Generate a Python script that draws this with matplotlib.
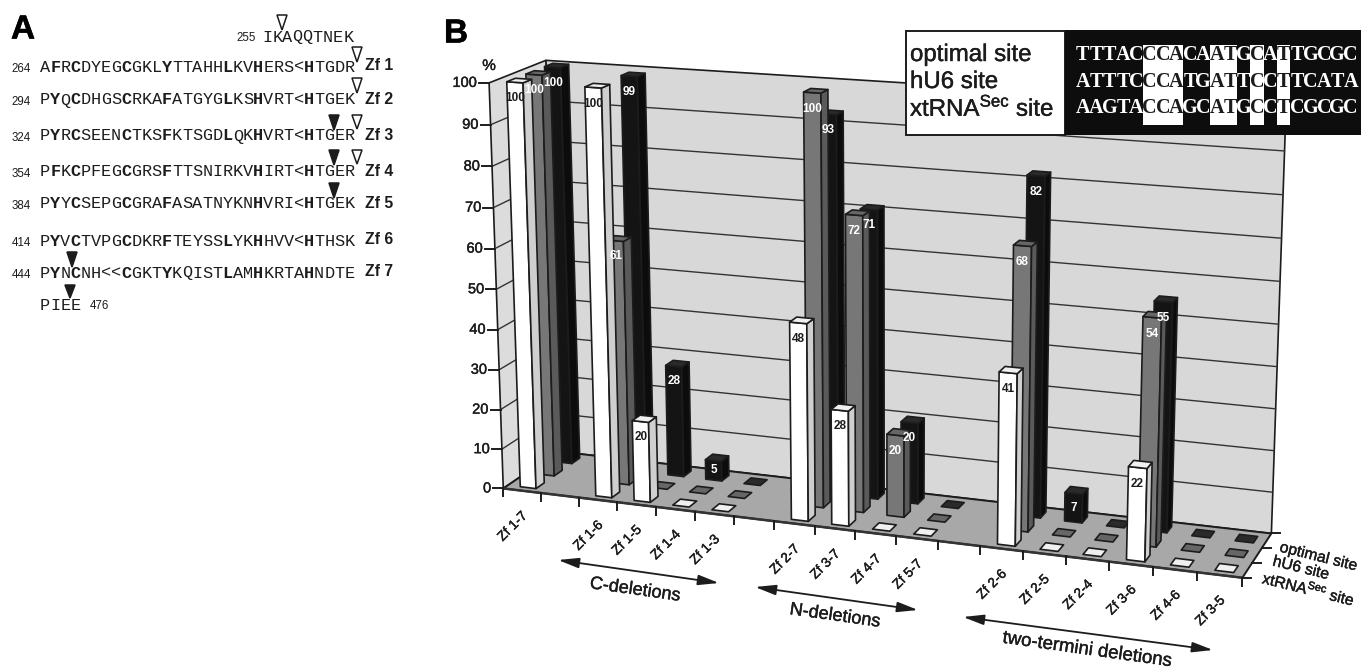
"""
Zinc finger alignment (A) and 3D bar chart of deletion mutants (B)
"""

import matplotlib
matplotlib.use('Agg')  # Use non-interactive backend
import matplotlib.pyplot as plt
import matplotlib.patheffects as pe
from matplotlib.patches import Polygon, Rectangle, FancyArrowPatch
import numpy as np

# ---- data, panel B ----
slot_labels = ['Zf 1-7', '', 'Zf 1-6', 'Zf 1-5', 'Zf 1-4', 'Zf 1-3', '',
               'Zf 2-7', 'Zf 3-7', 'Zf 4-7', 'Zf 5-7', '',
               'Zf 2-6', 'Zf 2-5', 'Zf 2-4', 'Zf 3-6', 'Zf 4-6', 'Zf 3-5']
xtrna_values = [100, None, 100, 20, 0, 0, None, 48, 28, 0, 0, None, 41, 0, 0, 22, 0, 0]
hu6_values = [100, None, 61, 0, 0, 0, None, 100, 72, 20, 0, None, 68, 0, 0, 54, 0, 0]
optimal_values = [100, None, 99, 28, 5, 0, None, 93, 71, 20, 0, None, 82, 7, 0, 55, 0, 0]
y_ticks = [0, 10, 20, 30, 40, 50, 60, 70, 80, 90, 100]

# ---- data, panel A ----
# a star marks the next residue as bold
zf_numbers = ['264', '294', '324', '354', '384', '414', '444']
zf_names = ['Zf 1', 'Zf 2', 'Zf 3', 'Zf 4', 'Zf 5', 'Zf 6', 'Zf 7']
zf_seqs = [
    'A*FR*CDYEG*CGKL*YTTAHH*LKV*HERS<*HTGDR',
    'P*YQ*CDHGS*CRKA*FATGYG*LKS*HVRT<*HTGEK',
    'P*YR*CSEEN*CTKS*FKTSGD*LQK*HVRT<*HTGER',
    'P*FK*CPFEG*CGRS*FTTSNIRKV*HIRT<*HTGER',
    'P*YY*CSEPG*CGRA*FASATNYKN*HVRI<*HTGEK',
    'P*YV*CTVPG*CDKR*FTEYSS*LYK*HHVV<*HTHSK',
    'P*YN*CNH<<*CGKT*YKQIST*LAM*HKRTA*HNDTE',
]
site_names = ['optimal site', 'hU6 site', r'xtRNA$^{\mathrm{Sec}}$ site']
site_seqs = ['TTTACCCACAATGCATTGCGC', 'ATTTCCCATGATTCCTTCATA', 'AAGTACCAGCATGCCTCGCGC']
site_conserved = [5, 6, 7, 10, 11, 13, 15]

plt.rcParams['font.family'] = ['Liberation Sans', 'DejaVu Sans']
plt.rcParams['mathtext.fontset'] = 'custom'
plt.rcParams['mathtext.rm'] = 'Liberation Sans'

INK = '#1c1c1c'
MONO = 'Liberation Mono'
SERIF = 'Liberation Serif'
# the scanned print makes all the labels a bit heavier than regular weight
HEAVY = [pe.withStroke(linewidth=0.3, foreground=INK)]

fig = plt.figure(figsize=(13.61, 6.69), dpi=100)
ax = fig.add_axes([0, 0, 1, 1])
ax.set_xlim(0, 1361)
ax.set_ylim(669, 0)
ax.axis('off')


def fit_projection():
    """Fit a projective map from (slot, depth, percent) to picture pixels"""
    world = [(0, 0, 0), (18, 0, 0), (18, 3, 0), (0, 3, 0), (9, 0, 0),
             (0, 0, 100), (18, 3, 100), (0, 3, 100)]
    pixel = [(505, 489), (1242, 578), (1272, 533), (556, 451), (855, 531),
             (488, 82), (1286, 107), (547, 61)]
    rows = []
    for (a, b, c), (u, v) in zip(world, pixel):
        p = [a, b, c, 1]
        rows.append(p + [0, 0, 0, 0] + [-u * k for k in p])
        rows.append([0, 0, 0, 0] + p + [-v * k for k in p])
    return np.linalg.svd(np.array(rows, dtype=float))[2][-1].reshape(3, 4)


PROJ = fit_projection()


def project(slot, depth, pct):
    p = PROJ @ np.array([slot, depth, pct, 1.0])
    return p[0] / p[2], p[1] / p[2]


def face(pts, color, z, lw=1.2):
    ax.add_patch(Polygon([project(*p) for p in pts], closed=True, facecolor=color,
                         edgecolor=INK, linewidth=lw, joinstyle='round', zorder=z))


def wall_line(a, b, lw=1.0, color='#333333', z=3):
    pa, pb = project(*a), project(*b)
    ax.plot([pa[0], pb[0]], [pa[1], pb[1]], color=color, lw=lw, zorder=z,
            solid_capstyle='round')


def draw_bar(slot, row, value, colors, text_color, z):
    u0, u1 = slot + 0.33, slot + 0.75
    d0, d1 = row + 0.25, row + 0.70
    front, side, top = colors
    if value > 0:
        face([(u0, d0, 0), (u1, d0, 0), (u1, d0, value), (u0, d0, value)], front, z)
        face([(u1, d0, 0), (u1, d1, 0), (u1, d1, value), (u1, d0, value)], side, z)
    face([(u0, d0, value), (u1, d0, value), (u1, d1, value), (u0, d1, value)], top, z)
    if value > 0:
        # labels sit above every bar, the nearer bars never hide them
        tx, ty = project((u0 + u1) / 2, d0, max(value - 3.8, value / 2))
        ax.text(tx, ty, str(value), color=text_color, fontsize=8.5, fontweight='bold',
                ha='center', va='center', zorder=15)


def triangle(x, top, bottom, filled):
    ax.add_patch(Polygon([(x - 5, top), (x + 5, top), (x, bottom)], closed=True,
                         facecolor=INK if filled else 'white', edgecolor=INK, linewidth=1.1,
                         zorder=4))


def draw_residues(x, y, seq):
    bold = False
    col = 0
    for ch in seq:
        if ch == '*':
            bold = True
            continue
        ax.text(x + col * 10.15, y, ch, family=MONO, fontsize=12.2, color=INK, ha='left',
                va='center', fontweight='bold' if bold else 'normal')
        bold = False
        col += 1


# ---- panel A ----
ax.text(11, 30, 'A', fontsize=24, fontweight='bold', color='black', va='center',
        path_effects=[pe.withStroke(linewidth=0.4, foreground='black')])
zf_rows = [67, 100, 136, 172, 204, 241, 273]
ax.text(236, 38, '255', fontsize=8.3, color=INK, va='center')
draw_residues(262, 37, 'IKAQQTNEK')
for number, name, seq, y in zip(zf_numbers, zf_names, zf_seqs, zf_rows):
    ax.text(31, y + 2, number, fontsize=8.3, color=INK, ha='right', va='center')
    draw_residues(40, y, seq)
    ax.text(365, y - 1, name, fontsize=11.3, fontweight='bold', color=INK, va='center')
draw_residues(40, 306, 'PIEE')
ax.text(90, 306, '476', fontsize=8.3, color=INK, va='center')
for x, top, bottom in [(282, 15, 30), (357, 47, 62), (357, 78, 93), (357, 115, 129), (357, 150, 164)]:
    triangle(x, top, bottom, False)
for x, top, bottom in [(334, 115, 130), (334, 150, 165), (334, 183, 198), (72, 252, 267), (70, 285, 298)]:
    triangle(x, top, bottom, True)

# ---- panel B frame ----
ax.text(444, 34, 'B', fontsize=24, fontweight='bold', color='black', va='center',
        path_effects=[pe.withStroke(linewidth=0.4, foreground='black')])
face([(0, 3, 0), (18, 3, 0), (18, 3, 100), (0, 3, 100)], '#d8d8d8', 1)
face([(0, 0, 0), (0, 3, 0), (0, 3, 100), (0, 0, 100)], '#dcdcdc', 1)
face([(0, 0, 0), (18, 0, 0), (18, 3, 0), (0, 3, 0)], '#a8a8a8', 2, lw=1.4)
for val in y_ticks[1:-1]:
    wall_line((0, 3, val), (18, 3, val))
    wall_line((0, 0, val), (0, 3, val))
wall_line((0, 0, 0), (18, 0, 0), lw=1.8, z=3)

for val in y_ticks:
    px, py = project(0, 0, val)
    ax.plot([px - 10, px], [py, py], color=INK, lw=1.4, zorder=3)
    ax.text(px - 12, py, str(val), fontsize=10.5, color=INK, ha='right', va='center',
            path_effects=HEAVY)
ax.text(489, 66, '%', fontsize=11, color=INK, ha='center', va='center', path_effects=HEAVY)

for i in range(len(slot_labels) + 1):
    px, py = project(i, 0, 0)
    ax.plot([px, px], [py, py + 8], color=INK, lw=1.4, zorder=3)
for i, label in enumerate(slot_labels):
    if label:
        px, py = project(i + 0.5, 0, 0)
        ax.text(px - 2, py + 18, label, fontsize=9.8, color=INK, rotation=45, ha='right',
                va='top', rotation_mode='anchor', path_effects=HEAVY)
for row in range(4):
    px, py = project(18, row, 0)
    ax.plot([px, px + 9], [py, py], color=INK, lw=1.4, zorder=3)
for label, x, y in [('optimal site', 1280, 547), ('hU6 site', 1273, 561), (site_names[2], 1263, 577)]:
    ax.text(x, y, label, fontsize=11.3, color=INK, rotation=-14, ha='left', va='center',
            rotation_mode='anchor', path_effects=HEAVY)

# ---- bars, back row first so the nearer rows cover them ----
series = [
    (optimal_values, 2, ('#141414', '#0c0c0c', '#2a2a2a'), 'white'),
    (hu6_values, 1, ('#777777', '#5a5a5a', '#666666'), 'white'),
    (xtrna_values, 0, ('#ffffff', '#cfcfcf', '#f0f0f0'), INK),
]
for n, (values, row, colors, text_color) in enumerate(series):
    for slot, value in enumerate(values):
        if value is not None:
            draw_bar(slot, row, value, colors, text_color, 5 + n * 2)

# ---- group arrows ----
groups = [
    ('C-deletions', (558, 560), (719, 583), (635, 590), 8, 13),
    ('N-deletions', (755, 587), (918, 610), (835, 616), 8, 13),
    ('two-termini deletions', (963, 617), (1213, 650), (1087, 650), 8, 13.4),
]
for label, start, end, centre, angle, size in groups:
    ax.add_patch(FancyArrowPatch(start, end, arrowstyle='<|-|>,head_length=0.9,head_width=0.22',
                                 mutation_scale=14, color=INK, lw=1.3, shrinkA=0, shrinkB=0))
    ax.text(centre[0], centre[1], label, fontsize=size, color=INK, rotation=-angle, ha='center',
            va='center', rotation_mode='anchor', path_effects=HEAVY)

# ---- inset with the sites ----
ax.add_patch(Rectangle((906, 31), 159, 104, facecolor='white', edgecolor=INK, linewidth=1.4, zorder=20))
ax.add_patch(Rectangle((1065, 30), 296, 105, facecolor='#0d0d0d', edgecolor='none', zorder=20))
site_rows = [55, 82, 108]
char_w = 13.4
for col in site_conserved:
    ax.add_patch(Rectangle((1076 + col * char_w, 45), char_w, 80, facecolor='white',
                           edgecolor='none', zorder=21))
for name, seq, y in zip(site_names, site_seqs, site_rows):
    ax.text(910, y, name, fontsize=17.3, color=INK, va='center', zorder=22, path_effects=HEAVY)
    for col, ch in enumerate(seq):
        ax.text(1076 + (col + 0.5) * char_w, y, ch, family=SERIF, fontsize=14.5, fontweight='bold',
                color=INK if col in site_conserved else 'white', ha='center', va='center', zorder=22)

fig.savefig('out.png', dpi=100)
